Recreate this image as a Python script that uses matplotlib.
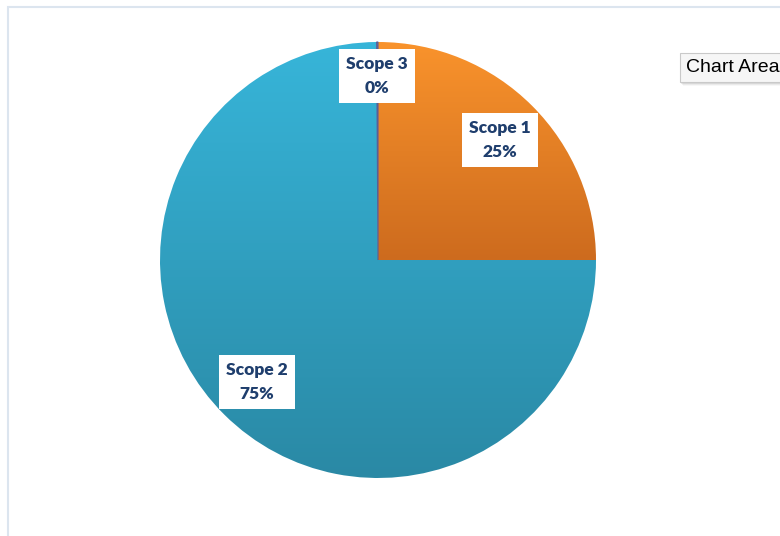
import matplotlib.pyplot as plt
import numpy as np
from matplotlib.colors import LinearSegmentedColormap
from matplotlib.patches import Rectangle

# emissions share by scope
scopes = ["Scope 1", "Scope 2", "Scope 3"]
shares = [25.0, 74.9, 0.1]

top_colors = ["#F9932C", "#37B5D9", "#6B6FA8"]
bottom_colors = ["#CD6B1E", "#2A89A5", "#5A5E96"]

W, H = 780, 536
fig = plt.figure(figsize=(W / 100, H / 100), dpi=100)
ax = fig.add_axes([0, 0, 1, 1])

cx, cy, r = 378, H - 260, 218

wedges, _ = ax.pie(
    shares,
    center=(cx, cy),
    radius=r,
    startangle=90,
    counterclock=False,
    wedgeprops=dict(linewidth=0),
)

# vertical gradient fill for each slice, over the slice's own height
grad = np.linspace(1, 0, 256).reshape(-1, 1)
for w, c0, c1 in zip(wedges, top_colors, bottom_colors):
    w.set_facecolor("none")
    bb = w.get_path().transformed(w.get_patch_transform()).get_extents()
    cmap = LinearSegmentedColormap.from_list("g", [c1, c0])
    im = ax.imshow(
        grad,
        cmap=cmap,
        extent=(cx - r, cx + r, bb.y0, bb.y1),
        aspect="auto",
        zorder=1,
        interpolation="bicubic",
    )
    im.set_clip_path(w)

# thin marker for the near-zero slice
wedges[2].set_edgecolor("#5A5E96")
wedges[2].set_linewidth(0.8)
wedges[2].set_zorder(2)

total = sum(shares)
label_pos = [(500, 140), (257, 382), (377, 76)]
for name, val, (lx, ly) in zip(scopes, shares, label_pos):
    ax.text(
        lx, H - ly, f"{name}\n{val / total * 100:.0f}%",
        ha="center", va="center", fontsize=12.5, fontweight="heavy",
        family=["Lato", "DejaVu Sans"], color="#1F3E6D", linespacing=1.6,
        zorder=5,
        bbox=dict(boxstyle="square,pad=0.4", facecolor="white", edgecolor="none"),
    )

# chart area frame
ax.add_patch(Rectangle((8, -20), W + 40, H - 7 + 20, facecolor="none",
                       edgecolor="#DCE5EF", linewidth=1.5, zorder=0))

# hover tooltip
for i, a in enumerate([0.08, 0.05, 0.03]):
    ax.add_patch(Rectangle((680 + i + 1, H - 82 - i - 2), 120, 29,
                           facecolor="black", alpha=a, edgecolor="none", zorder=6))
ax.add_patch(Rectangle((680, H - 82), 120, 29, facecolor="#F6F6F6",
                       edgecolor="#C9C9C9", linewidth=0.8, zorder=7))
ax.text(686, H - 67.5, "Chart Area", ha="left", va="center", fontsize=14,
        family=["Liberation Sans", "DejaVu Sans"], color="black", zorder=8)

ax.set_xlim(0, W)
ax.set_ylim(0, H)
ax.set_aspect("auto")
ax.axis("off")

fig.savefig("out.png", dpi=100, facecolor="white")
